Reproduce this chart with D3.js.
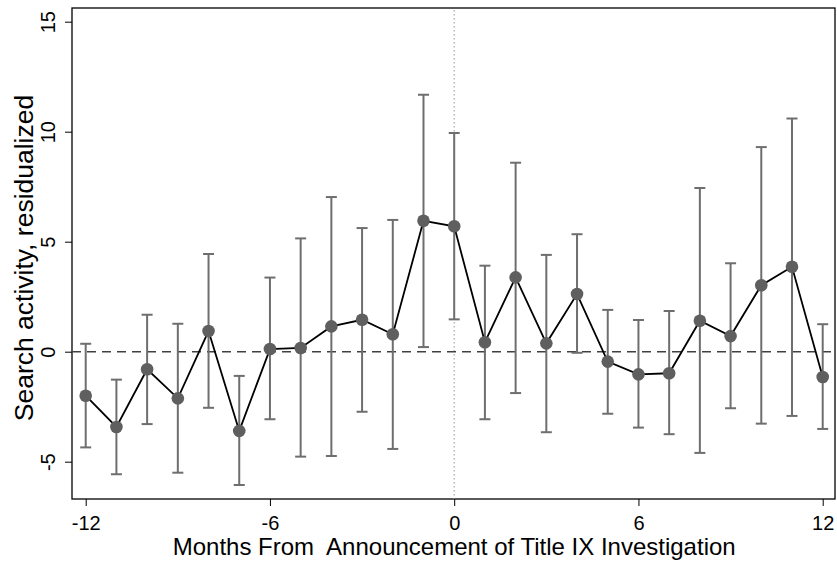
<!DOCTYPE html>
<html>
<head>
<meta charset="utf-8">
<script src="https://cdn.jsdelivr.net/npm/d3@7"></script>
<style>
  html, body { margin: 0; padding: 0; background: #fff; }
  svg { display: block; }
  text { font-family: "Liberation Sans", Arial, Helvetica, sans-serif; fill: #000; }
</style>
</head>
<body>
<svg id="chart" width="837" height="561"></svg>
<script>
const months = [-12,-11,-10,-9,-8,-7,-6,-5,-4,-3,-2,-1,0,1,2,3,4,5,6,7,8,9,10,11,12];
const estimates = [-2.0,-3.42,-0.8,-2.12,0.94,-3.6,0.12,0.17,1.15,1.45,0.79,5.95,5.7,0.43,3.38,0.38,2.62,-0.45,-1.03,-0.98,1.41,0.71,3.02,3.86,-1.15];
const upperCI = [0.36,-1.27,1.68,1.27,4.44,-1.1,3.37,5.15,7.03,5.62,5.99,11.68,9.94,3.91,8.59,4.4,5.34,1.9,1.44,1.85,7.44,4.02,9.3,10.6,1.25];
const lowerCI = [-4.35,-5.57,-3.29,-5.5,-2.55,-6.06,-3.07,-4.77,-4.74,-2.73,-4.42,0.21,1.47,-3.07,-1.88,-3.66,-0.05,-2.82,-3.45,-3.75,-4.6,-2.57,-3.27,-2.92,-3.51];
const xTicks = [-12,-6,0,6,12];
const yTicks = [-5,0,5,10,15];

const data = months.map((m,i)=>({m, v: estimates[i], hi: upperCI[i], lo: lowerCI[i]}));

const svg = d3.select("#chart");
const L = 72, R = 835, T = 8, B = 499;

const x = d3.scaleLinear().domain([-12, 12]).range([85.7, 822.7]);
const y = d3.scaleLinear().domain([0, 15]).range([351.7, 21.7]);

// frame
svg.append("rect").attr("x", L).attr("y", T).attr("width", R - L).attr("height", B - T)
  .attr("fill", "none").attr("stroke", "#000").attr("stroke-width", 1.3);

// vertical dotted line at 0
svg.append("line").attr("x1", x(0)).attr("x2", x(0)).attr("y1", T + 2).attr("y2", B)
  .attr("stroke", "#999").attr("stroke-width", 1).attr("stroke-dasharray", "1.5,2.5");

// horizontal dashed at 0
svg.append("line").attr("x1", L).attr("x2", R).attr("y1", y(0)).attr("y2", y(0))
  .attr("stroke", "#404040").attr("stroke-width", 1.6).attr("stroke-dasharray", "9,6");

// axes
const xAxis = d3.axisBottom(x).tickValues(xTicks).tickSize(7).tickPadding(5).tickFormat(d3.format("d"));
const gx = svg.append("g").attr("transform", `translate(0,${B})`).call(xAxis);
gx.select(".domain").remove();
gx.selectAll(".tick line").attr("stroke", "#000").attr("stroke-width", 1);
gx.selectAll(".tick text").attr("font-size", 20).attr("font-family", "Liberation Sans, Arial, sans-serif")
  .attr("dy", null).attr("y", 31)
  .text(d => d < 0 ? "-" + Math.abs(d) : d);

const yAxis = d3.axisLeft(y).tickValues(yTicks).tickSize(7).tickFormat(d3.format("d"));
const gy = svg.append("g").attr("transform", `translate(${L},0)`).call(yAxis);
gy.select(".domain").remove();
gy.selectAll(".tick line").attr("stroke", "#000").attr("stroke-width", 1);
gy.selectAll(".tick text")
  .attr("font-size", 20).attr("font-family", "Liberation Sans, Arial, sans-serif")
  .attr("x", null).attr("dy", null)
  .attr("text-anchor", "middle")
  .attr("transform", "translate(-17,0) rotate(-90)")
  .text(d => d < 0 ? "-" + Math.abs(d) : d);

// error bars
const eb = svg.append("g").attr("stroke", "#6e6e6e").attr("stroke-width", 2);
const capW = 5.5;
data.forEach(d => {
  eb.append("line").attr("x1", x(d.m)).attr("x2", x(d.m)).attr("y1", y(d.hi)).attr("y2", y(d.lo));
  eb.append("line").attr("x1", x(d.m) - capW).attr("x2", x(d.m) + capW).attr("y1", y(d.hi)).attr("y2", y(d.hi));
  eb.append("line").attr("x1", x(d.m) - capW).attr("x2", x(d.m) + capW).attr("y1", y(d.lo)).attr("y2", y(d.lo));
});

// connecting line
svg.append("path").datum(data)
  .attr("d", d3.line().x(d => x(d.m)).y(d => y(d.v)))
  .attr("fill", "none").attr("stroke", "#000").attr("stroke-width", 1.8);

// points
svg.append("g").selectAll("circle").data(data).join("circle")
  .attr("cx", d => x(d.m)).attr("cy", d => y(d.v)).attr("r", 6.3)
  .attr("fill", "#5f5f5f");

// axis titles
svg.append("text").attr("x", x(0)).attr("y", 555).attr("text-anchor", "middle")
  .attr("font-size", 24).text("Months From\u00a0 Announcement of Title IX Investigation");
svg.append("text").attr("transform", `translate(33,258) rotate(-90)`).attr("text-anchor", "middle")
  .attr("font-size", 26.5).text("Search activity, residualized");
</script>
</body>
</html>
